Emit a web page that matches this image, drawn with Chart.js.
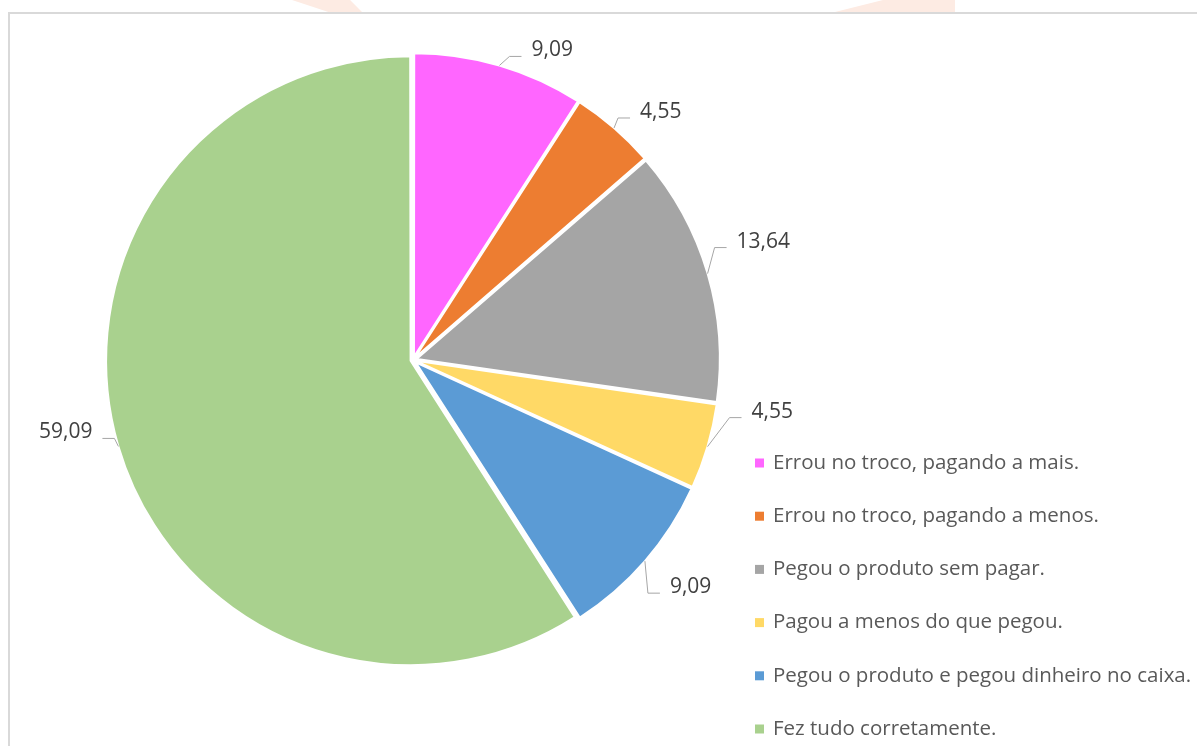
<!DOCTYPE html>
<html>
<head>
<meta charset="utf-8">
<script src="https://cdn.jsdelivr.net/npm/chart.js@4"></script>
<style>
  html, body { margin: 0; padding: 0; background: #fff; }
  #wrap { position: relative; width: 1197px; height: 746px; overflow: hidden; }
  #frame { position: absolute; left: 8px; top: 12px; right: -4px; bottom: -4px;
           border-left: 2px solid #d9d9d9; border-top: 2px solid #d9d9d9; }
  .stripe { position: absolute; top: 0; height: 12px; background: #fdebe3; }
  #s1 { left: 292px; width: 70px; clip-path: polygon(0 0, 83% 0, 100% 100%, 52% 100%); }
  #s2 { left: 835px; width: 120px; clip-path: polygon(40% 0, 100% 0, 100% 100%, 0 100%); }
  canvas { position: absolute; left: 0; top: 0; }
</style>
</head>
<body>
<div id="wrap">
  <div class="stripe" id="s1"></div>
  <div class="stripe" id="s2"></div>
  <div id="frame"></div>
  <canvas id="chart1" width="1197" height="746"></canvas>
</div>
<script>
// data (percent)
var categories = [
    'Errou no troco, pagando a mais.',
    'Errou no troco, pagando a menos.',
    'Pegou o produto sem pagar.',
    'Pagou a menos do que pegou.',
    'Pegou o produto e pegou dinheiro no caixa.',
    'Fez tudo corretamente.'
];
var values = [9.09, 4.55, 13.64, 4.55, 9.09, 59.09];
var colors = ['#FF66FF', '#ED7D31', '#A5A5A5', '#FFD966', '#5B9BD5', '#A9D18E'];

// leader line elbow, relative to the point on the slice edge
var labelElbows = [[10, -9], [4, -10], [7, -26], [22, -29], [3, 32], [-4, -8]];
var EXPLODE = 5; // px each slice is pulled out
var total = values.reduce(function (a, b) { return a + b; }, 0);

// data labels with leader lines, Excel style
var labelPlugin = {
    id: 'pieLabels',
    afterDatasetsDraw: function (chart) {
        var ctx = chart.ctx;
        var arcs = chart.getDatasetMeta(0).data;
        ctx.save();
        ctx.font = '21px "Open Sans"';
        ctx.textBaseline = 'middle';
        arcs.forEach(function (arc, i) {
            var mid = (arc.startAngle + arc.endAngle) / 2;
            var r = arc.outerRadius + EXPLODE;
            var ax = arc.x + Math.cos(mid) * r;
            var ay = arc.y + Math.sin(mid) * r;
            var ex = ax + labelElbows[i][0];
            var ey = ay + labelElbows[i][1];
            var dir = labelElbows[i][0] >= 0 ? 1 : -1;
            var hx = ex + dir * 12;
            ctx.strokeStyle = '#A6A6A6';
            ctx.lineWidth = 1;
            ctx.beginPath();
            ctx.moveTo(ax, ay);
            ctx.lineTo(ex, ey);
            ctx.lineTo(hx, ey);
            ctx.stroke();
            ctx.fillStyle = '#404040';
            ctx.textAlign = dir > 0 ? 'left' : 'right';
            ctx.fillText(values[i].toFixed(2).replace('.', ','), hx + dir * 10, ey - 6);
        });
        ctx.restore();
    }
};

// legend on the right, drawn by hand
var legendPlugin = {
    id: 'sideLegend',
    afterDraw: function (chart) {
        var ctx = chart.ctx;
        ctx.save();
        ctx.font = '20.5px "Open Sans"';
        ctx.textBaseline = 'middle';
        ctx.textAlign = 'left';
        categories.forEach(function (c, i) {
            var y = 463 + i * 53.2;
            ctx.fillStyle = colors[i];
            ctx.fillRect(755, y - 4.5, 9, 9);
            ctx.fillStyle = '#595959';
            ctx.fillText(c, 773, y);
        });
        ctx.restore();
    }
};

var ctx1 = document.getElementById('chart1').getContext('2d');
var chart1 = new Chart(ctx1, {
    type: 'pie',
    data: {
        labels: categories,
        datasets: [{
            data: values,
            backgroundColor: colors,
            borderColor: '#ffffff',
            borderWidth: 2,
            radius: 302,
            // same pull-out for every slice (arc.draw scales offset by slice size)
            offset: function (c) {
                var circ = c.raw / total * 2 * Math.PI;
                var fix = 1 - Math.sin(Math.min(Math.PI, circ));
                return 4 * EXPLODE / (1 + fix);
            }
        }]
    },
    options: {
        responsive: false,
        animation: false,
        layout: { padding: { left: 0, right: 371, top: 0, bottom: 26 } },
        plugins: {
            legend: { display: false },
            tooltip: { enabled: false }
        }
    },
    plugins: [labelPlugin, legendPlugin]
});
</script>
</body>
</html>
